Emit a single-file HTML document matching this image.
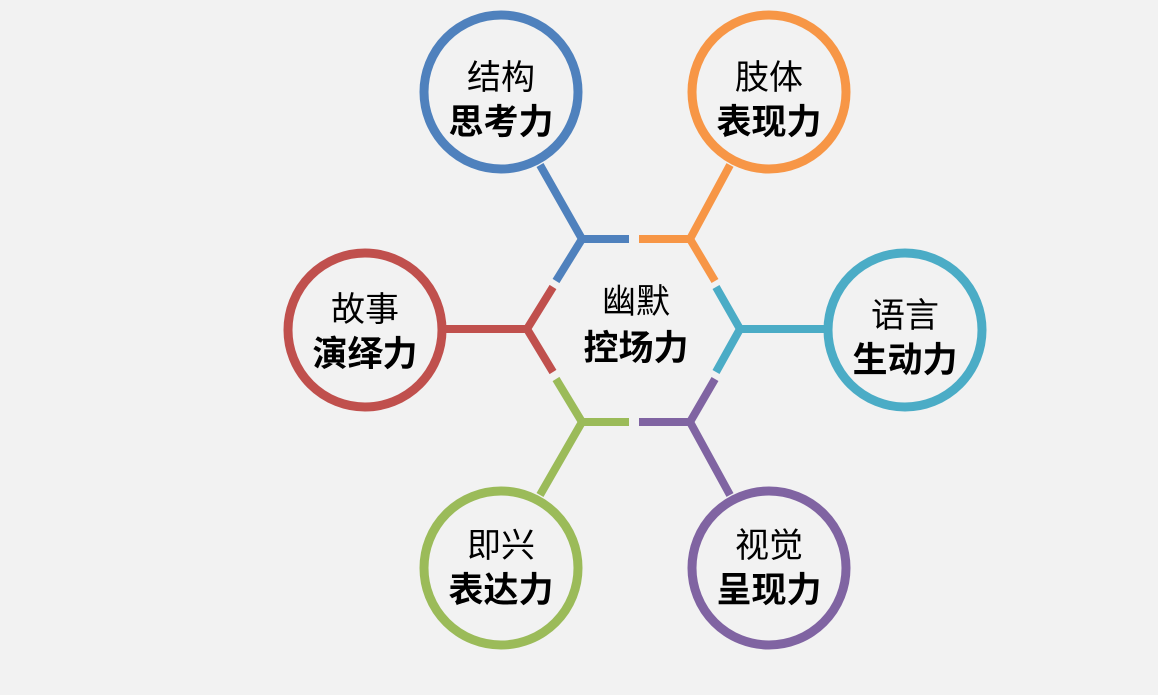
<!DOCTYPE html>
<html><head><meta charset="utf-8"><style>
html,body{margin:0;padding:0;background:#f2f2f2;}
svg{display:block}
text{font-family:"Liberation Sans","Noto Sans CJK SC",sans-serif;text-anchor:middle;fill:#000}
.r{font-size:34px}
.b{font-size:35px;font-weight:bold}
</style></head><body>
<svg width="1158" height="695" viewBox="0 0 1158 695">
<rect width="1158" height="695" fill="#f2f2f2"/>
<g fill="none" stroke-width="8">
<g stroke="#4F81BD">
<circle cx="501" cy="92" r="77" stroke-width="9"/>
<polyline points="540,165 582,239 629,239"/>
<line x1="582" y1="239" x2="556" y2="281"/>
</g>
<g stroke="#F79646">
<circle cx="769" cy="92" r="77" stroke-width="9"/>
<polyline points="730,165 690,239 639,239"/>
<line x1="690" y1="239" x2="715" y2="281"/>
</g>
<g stroke="#C0504D">
<circle cx="365" cy="330" r="77" stroke-width="9"/>
<line x1="442" y1="329" x2="527" y2="329"/>
<polyline points="553,287 527,329 553,372"/>
</g>
<g stroke="#4BACC6">
<circle cx="905" cy="330" r="77" stroke-width="9"/>
<line x1="828" y1="329" x2="740" y2="329"/>
<polyline points="716,287 740,329 716,372"/>
</g>
<g stroke="#9BBB59">
<circle cx="501" cy="568" r="77" stroke-width="9"/>
<polyline points="540,495 582,422 629,422"/>
<line x1="582" y1="422" x2="556" y2="379"/>
</g>
<g stroke="#8064A2">
<circle cx="769" cy="568" r="77" stroke-width="9"/>
<polyline points="730,495 690,422 639,422"/>
<line x1="690" y1="422" x2="715" y2="379"/>
</g>
</g>
<text class="r" x="501" y="89">结构</text>
<text class="b" x="501" y="134">思考力</text>
<text class="r" x="769" y="89">肢体</text>
<text class="b" x="769" y="134">表现力</text>
<text class="r" x="365" y="321">故事</text>
<text class="b" x="365" y="366">演绎力</text>
<text class="r" x="905" y="327">语言</text>
<text class="b" x="905" y="372">生动力</text>
<text class="r" x="501" y="557">即兴</text>
<text class="b" x="501" y="602">表达力</text>
<text class="r" x="769" y="557">视觉</text>
<text class="b" x="769" y="602">呈现力</text>
<text class="r" x="636" y="313">幽默</text>
<text class="b" x="636" y="360">控场力</text>
</svg>
</body></html>
